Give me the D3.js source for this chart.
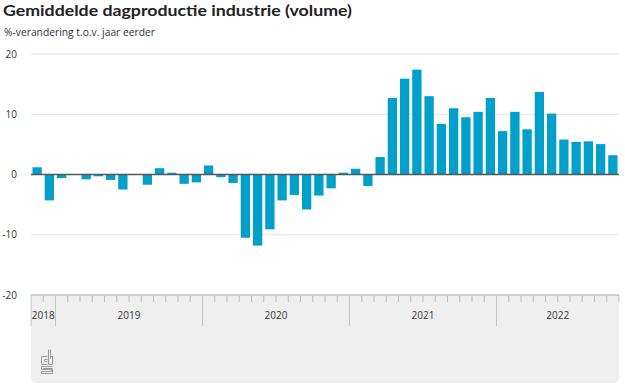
<!DOCTYPE html>
<html><head><meta charset="utf-8">
<script src="https://cdn.jsdelivr.net/npm/d3@7"></script>
<style>
html,body{margin:0;padding:0;background:#fff;}
svg{display:block;font-family:"Open Sans","DejaVu Sans",sans-serif;}
</style></head>
<body>
<svg id="chart" width="625" height="390"></svg>
<script>
const title = "Gemiddelde dagproductie industrie (volume)";
const subtitle = "%-verandering t.o.v. jaar eerder";
const months = [
 "2018-11","2018-12",
 "2019-01","2019-02","2019-03","2019-04","2019-05","2019-06","2019-07","2019-08","2019-09","2019-10","2019-11","2019-12",
 "2020-01","2020-02","2020-03","2020-04","2020-05","2020-06","2020-07","2020-08","2020-09","2020-10","2020-11","2020-12",
 "2021-01","2021-02","2021-03","2021-04","2021-05","2021-06","2021-07","2021-08","2021-09","2021-10","2021-11","2021-12",
 "2022-01","2022-02","2022-03","2022-04","2022-05","2022-06","2022-07","2022-08","2022-09","2022-10"
];
const values = [
 1.2,-4.3,
 -0.6,0.0,-0.8,-0.3,-0.9,-2.5,0.0,-1.7,1.05,0.3,-1.55,-1.3,
 1.5,-0.45,-1.4,-10.5,-11.8,-9.1,-4.3,-3.4,-5.8,-3.5,-2.3,0.3,
 0.95,-1.9,2.9,12.7,15.9,17.4,13.0,8.4,11.0,9.5,10.4,12.7,
 7.2,10.4,7.5,13.7,10.1,5.8,5.4,5.5,5.05,3.2
];
const years = ["2018","2019","2020","2021","2022"];
const yTicks = [-20,-10,0,10,20];

const svg = d3.select("#chart");
const L = 31, R = 619, T = 54, B = 295;

const x = d3.scaleBand().domain(months).range([L, R]).paddingInner(0.24).paddingOuter(0.12);
const y = d3.scaleLinear().domain([-20, 20]).range([B, T]);
const edge = m => L + months.indexOf(m) * (R - L) / months.length;

// Title & subtitle
svg.append("text").attr("x", 3).attr("y", 16)
  .attr("font-family", "Lato, 'Open Sans', sans-serif")
  .attr("font-size", 16).attr("font-weight", "bold").attr("fill", "#222")
  .attr("textLength", 349).attr("lengthAdjust", "spacingAndGlyphs")
  .text(title);
svg.append("text").attr("x", 4).attr("y", 35.5)
  .attr("font-size", 11.5).attr("fill", "#333")
  .attr("textLength", 151).attr("lengthAdjust", "spacingAndGlyphs")
  .text(subtitle);

// bottom box
const boxBottom = 383, rr = 6;
svg.append("path")
  .attr("d", `M${L},${B} H${R} V${boxBottom - rr} Q${R},${boxBottom} ${R - rr},${boxBottom} H${L + rr} Q${L},${boxBottom} ${L},${boxBottom - rr} Z`)
  .attr("fill", "#efefef");

// gridlines
svg.append("g").selectAll("line").data(yTicks.filter(d => d !== 0 && d !== -20)).join("line")
  .attr("x1", L).attr("x2", R).attr("y1", d => y(d)).attr("y2", d => y(d))
  .attr("stroke", "#e2e2e2").attr("stroke-width", 1);

// y labels
svg.append("g").selectAll("text").data(yTicks).join("text")
  .attr("x", 17).attr("y", d => y(d)).attr("dy", "0.35em")
  .attr("text-anchor", "end").attr("font-size", 10).attr("fill", "#333")
  .text(d => d);

// bars
svg.append("g").selectAll("rect").data(months).join("rect")
  .attr("x", d => x(d)).attr("width", x.bandwidth())
  .attr("y", (d, i) => y(Math.max(0, values[i])))
  .attr("height", (d, i) => Math.abs(y(values[i]) - y(0)))
  .attr("fill", "#00a0cb");

// zero line
svg.append("line").attr("x1", L).attr("x2", R).attr("y1", y(0)).attr("y2", y(0))
  .attr("stroke", "#555").attr("stroke-width", 1.5);

// axis top line
svg.append("line").attr("x1", L).attr("x2", R).attr("y1", B).attr("y2", B)
  .attr("stroke", "#a8a8a8").attr("stroke-width", 1.2);

// month ticks
const tickG = svg.append("g");
months.forEach((m, i) => {
  const xx = edge(m);
  const isYear = m.endsWith("-01") || i === 0;
  tickG.append("line").attr("x1", xx).attr("x2", xx)
    .attr("y1", B).attr("y2", isYear ? 326 : 302)
    .attr("stroke", isYear ? "#c4c4c4" : "#bdbdbd").attr("stroke-width", 1);
});
tickG.append("line").attr("x1", R).attr("x2", R).attr("y1", B).attr("y2", 302)
  .attr("stroke", "#bdbdbd");

// year labels
years.forEach(yr => {
  const ms = months.filter(m => m.startsWith(yr));
  const x0 = edge(ms[0]);
  const x1 = edge(ms[ms.length - 1]) + (R - L) / months.length;
  svg.append("text").attr("x", (x0 + x1) / 2).attr("y", 315).attr("dy", "0.35em")
    .attr("text-anchor", "middle").attr("font-size", 10).attr("fill", "#333")
    .text(yr);
});

// cbs logo (approximate)
const lg = svg.append("g").attr("fill", "none").attr("stroke", "#9a9a9a").attr("stroke-width", 1);
lg.append("path").attr("d", "M47.5,356.5 H41.5 V364.5 H47.5 M47.5,359.5 H44.5 V361.5 H47.5");
lg.append("path").attr("d", "M48.5,349.5 V364.5 H52.5 V356.5 H50.5 M50.5,349.5 V358.5 H51");
lg.append("path").attr("d", "M52.5,366.5 H41.5 V369.5 H51.5 V371.5 H41.5 V373.5 H52.5 V368.5 H43.5 M43.5,368 V368.5");
</script>
</body></html>
